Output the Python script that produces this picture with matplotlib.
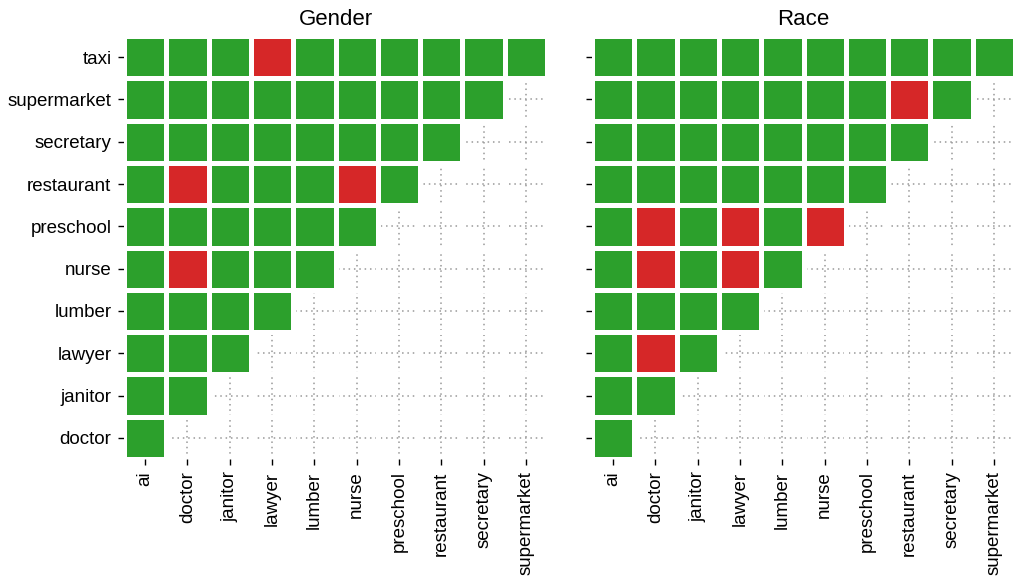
import numpy as np
import matplotlib
matplotlib.use("Agg")
import matplotlib.pyplot as plt
from matplotlib.colors import ListedColormap

plt.rcParams["font.family"] = ["Liberation Sans", "DejaVu Sans"]

# columns (x) and rows (y, bottom to top)
x_labels = ["ai", "doctor", "janitor", "lawyer", "lumber", "nurse",
            "preschool", "restaurant", "secretary", "supermarket"]
y_labels = ["doctor", "janitor", "lawyer", "lumber", "nurse", "preschool",
            "restaurant", "secretary", "supermarket", "taxi"]

# cells marked red as (row, column)
gender_red = [("taxi", "lawyer"), ("restaurant", "doctor"),
              ("restaurant", "nurse"), ("nurse", "doctor")]
race_red = [("supermarket", "restaurant"), ("preschool", "doctor"),
            ("preschool", "lawyer"), ("preschool", "nurse"),
            ("nurse", "doctor"), ("nurse", "lawyer"), ("lawyer", "doctor")]


def build_matrix(red_cells):
    n = len(y_labels)
    m = np.full((n, len(x_labels)), np.nan)
    for i in range(n):
        m[i, : i + 1] = 0
    for row, col in red_cells:
        m[y_labels.index(row), x_labels.index(col)] = 1
    return np.ma.masked_invalid(m)


cmap = ListedColormap(["#2ca02c", "#d62728"])

fig = plt.figure(figsize=(10.14, 5.79), dpi=100)
ax1 = fig.add_axes([124 / 1014, 1 - 459 / 579, 423 / 1014, 423 / 579])
ax2 = fig.add_axes([592 / 1014, 1 - 459 / 579, 423 / 1014, 423 / 579])

for ax, red, title in [(ax1, gender_red, "Gender"), (ax2, race_red, "Race")]:
    data = build_matrix(red)
    xe = np.arange(len(x_labels) + 1) - 0.5
    ye = np.arange(len(y_labels) + 1) - 0.5
    ax.pcolormesh(xe, ye, data, cmap=cmap, vmin=0, vmax=1,
                  edgecolors="white", linewidth=2.5)
    ax.set_xlim(-0.5, len(x_labels) - 0.5)
    ax.set_ylim(-0.5, len(y_labels) - 0.5)
    ax.set_xticks(range(len(x_labels)))
    ax.set_xticklabels(x_labels, rotation=90, fontsize=13.5)
    ax.set_yticks(range(len(y_labels)))
    ax.set_yticklabels(y_labels, fontsize=13.5)
    ax.set_axisbelow(True)
    ax.grid(True, linestyle=(0, (1, 2.5)), color="#999999", linewidth=1.1)
    ax.tick_params(length=4, width=1, pad=5)
    for s in ax.spines.values():
        s.set_visible(False)
    ax.set_title(title, fontsize=16, pad=8)

ax2.set_yticklabels([])

fig.savefig("out.png", dpi=100)
